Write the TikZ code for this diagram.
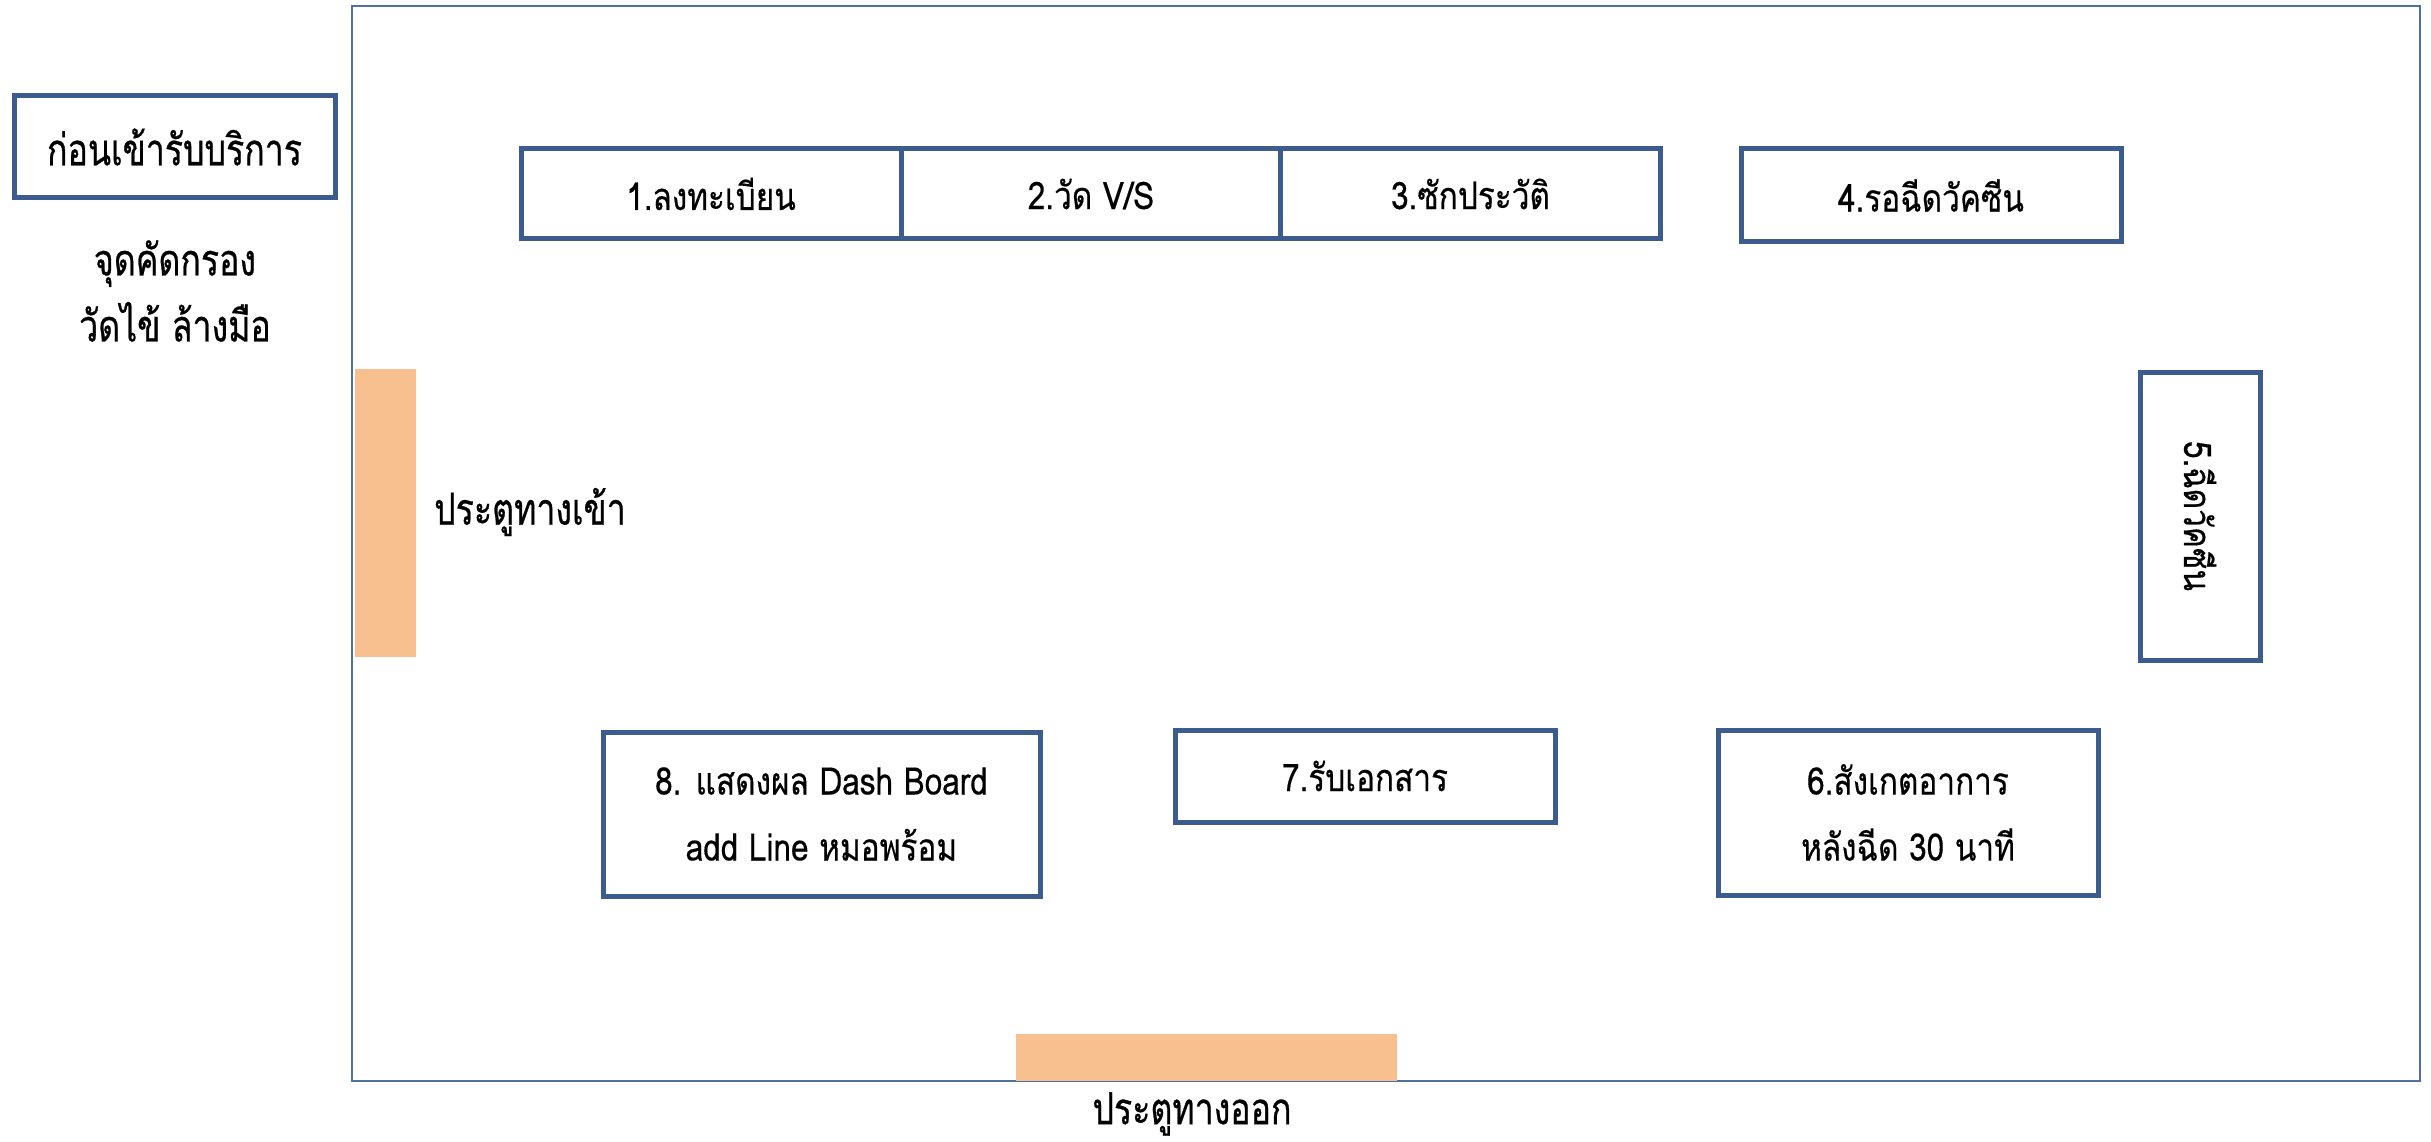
\documentclass[tikz,border=0pt]{standalone}
\usepackage{fontspec}
\newfontfamily\thai[Script=Thai,FakeStretch=0.77,FakeBold=0.6]{Loma}
\newfontfamily\thaic[Script=Thai,FakeStretch=0.83,FakeBold=0.4]{Loma}
\definecolor{boxblue}{RGB}{59,92,140}
\definecolor{framblue}{RGB}{80,112,160}
\definecolor{doorc}{RGB}{249,192,143}
\begin{document}
\begin{tikzpicture}[x=1pt,y=-1pt,
  stn/.style={draw=boxblue,line width=5pt,fill=white,rectangle,inner sep=0pt,align=center,
    font=\thaic\fontsize{38}{66}\selectfont},
  lbl/.style={inner sep=0pt,align=center,font=\thai\fontsize{44}{66}\selectfont},
  door/.style={fill=doorc,draw=none,inner sep=0pt,rectangle}]
\useasboundingbox (0,0) rectangle (2431,1142);
% room frame
\node[draw=framblue,line width=2pt,inner sep=0pt,minimum width=2068pt,minimum height=1075pt] (room) at (1386,543.5) {};
% doors
\node[door,minimum width=61pt,minimum height=288pt] (indoor) at (385.5,513) {};
\node[door,minimum width=381pt,minimum height=47pt] (outdoor) at (1206.5,1057.5) {};
% labels
\node[stn,font=\thai\fontsize{44}{60}\selectfont,minimum width=321pt,minimum height=102pt] (pre) at (174.5,147) {ก่อนเข้ารับบริการ};
\node[lbl] (screen) at (175,291) {จุดคัดกรอง\\วัดไข้ ล้างมือ};
\node[lbl,anchor=west] (inlbl) at (434,512) {ประตูทางเข้า};
\node[lbl] (outlbl) at (1192,1114) {ประตูทางออก};
% stations
\node[stn,minimum width=380pt,minimum height=90pt] (b1) at (711,194) {1.ลงทะเบียน};
\node[stn,minimum width=380pt,minimum height=90pt] (b2) at (1091,194) {2.วัด V/S};
\node[stn,minimum width=380pt,minimum height=90pt] (b3) at (1470.5,194) {3.ซักประวัติ};
\node[stn,minimum width=380pt,minimum height=93pt] (b4) at (1931,195.5) {4.รอฉีดวัคซีน};
\node[stn,rotate=-90,minimum width=288pt,minimum height=120pt] (b5) at (2200,516) {5.ฉีดวัคซีน};
\node[stn,minimum width=380pt,minimum height=165pt] (b6) at (1908,812.5) {6.สังเกตอาการ\\หลังฉีด 30 นาที};
\node[stn,minimum width=380pt,minimum height=92pt] (b7) at (1365,776) {7.รับเอกสาร};
\node[stn,minimum width=437pt,minimum height=164pt] (b8) at (821.5,814) {8. แสดงผล Dash Board\\add Line หมอพร้อม};
\end{tikzpicture}
\end{document}
